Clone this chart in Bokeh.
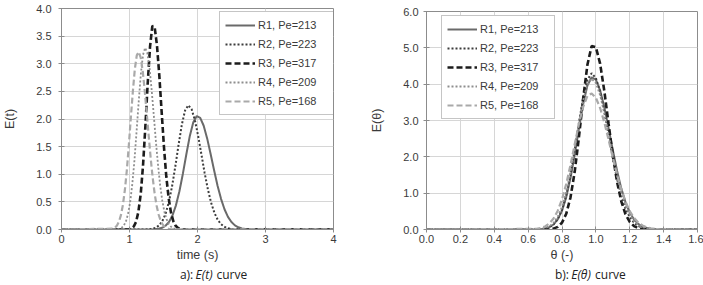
from bokeh.plotting import figure
from bokeh.layouts import row, column
from bokeh.models import (Range1d, FixedTicker, NumeralTickFormatter, Legend,
                          LegendItem, Label)
from bokeh.embed import file_html
from bokeh.resources import INLINE

series_labels = ["R1, Pe=213", "R2, Pe=223", "R3, Pe=317", "R4, Pe=209", "R5, Pe=168"]

# ---- panel a): E(t) ----
t_R1 = [0.0, 1.326, 1.377, 1.428, 1.479, 1.530, 1.581, 1.632, 1.683, 1.734, 1.785, 1.836,
        1.887, 1.938, 1.989, 2.040, 2.091, 2.142, 2.193, 2.244, 2.295, 2.346, 2.397,
        2.448, 2.499, 2.550, 2.601, 2.652, 2.703, 2.754, 2.805, 2.856, 4.0]
E_t_R1 = [0.0, 0.002, 0.005, 0.013, 0.031, 0.068, 0.137, 0.254, 0.437, 0.692, 1.010, 1.362,
          1.694, 1.943, 2.054, 2.022, 1.878, 1.649, 1.367, 1.072, 0.793, 0.555, 0.367,
          0.229, 0.135, 0.075, 0.040, 0.020, 0.009, 0.004, 0.001, 0.0, 0.0]

t_R2 = [0.0, 1.243, 1.291, 1.339, 1.387, 1.435, 1.483, 1.530, 1.578, 1.626, 1.674, 1.722,
        1.770, 1.817, 1.865, 1.913, 1.961, 2.009, 2.057, 2.104, 2.152, 2.200, 2.248,
        2.296, 2.343, 2.391, 2.439, 2.487, 2.535, 2.583, 2.630, 2.678, 4.0]
E_t_R2 = [0.0, 0.002, 0.005, 0.014, 0.033, 0.074, 0.151, 0.283, 0.491, 0.782, 1.143, 1.537,
          1.899, 2.155, 2.248, 2.179, 1.984, 1.697, 1.363, 1.029, 0.730, 0.486, 0.304,
          0.179, 0.099, 0.051, 0.025, 0.012, 0.005, 0.002, 0.001, 0.0, 0.0]

t_R3 = [0.0, 0.891, 0.925, 0.959, 0.993, 1.028, 1.062, 1.096, 1.130, 1.165, 1.199, 1.233,
        1.267, 1.302, 1.336, 1.370, 1.404, 1.439, 1.473, 1.507, 1.541, 1.576, 1.610,
        1.644, 1.678, 1.713, 1.747, 1.781, 1.815, 1.850, 1.884, 1.918, 4.0]
E_t_R3 = [0.0, 0.0, 0.0, 0.001, 0.006, 0.018, 0.053, 0.137, 0.315, 0.642, 1.159, 1.854,
          2.631, 3.308, 3.686, 3.664, 3.332, 2.779, 2.126, 1.491, 0.959, 0.566, 0.306,
          0.152, 0.069, 0.028, 0.011, 0.004, 0.001, 0.0, 0.0, 0.0, 0.0]

t_R4 = [0.0, 0.820, 0.852, 0.883, 0.915, 0.947, 0.978, 1.010, 1.041, 1.073, 1.104, 1.136,
        1.167, 1.199, 1.230, 1.262, 1.294, 1.325, 1.357, 1.388, 1.420, 1.451, 1.483,
        1.514, 1.546, 1.578, 1.609, 1.641, 1.672, 1.704, 1.735, 1.767, 4.0]
E_t_R4 = [0.0, 0.005, 0.013, 0.031, 0.070, 0.144, 0.279, 0.497, 0.820, 1.254, 1.774, 2.324,
          2.819, 3.164, 3.288, 3.195, 2.929, 2.536, 2.071, 1.597, 1.162, 0.798, 0.517,
          0.317, 0.183, 0.100, 0.052, 0.025, 0.011, 0.005, 0.002, 0.001, 0.0]

t_R5 = [0.0, 0.757, 0.786, 0.816, 0.845, 0.874, 0.903, 0.932, 0.961, 0.990, 1.019, 1.049,
        1.078, 1.107, 1.136, 1.165, 1.194, 1.223, 1.252, 1.282, 1.311, 1.340, 1.369,
        1.398, 1.427, 1.456, 1.485, 1.515, 1.544, 1.573, 1.602, 1.631, 4.0]
E_t_R5 = [0.0, 0.015, 0.034, 0.072, 0.142, 0.259, 0.445, 0.715, 1.076, 1.521, 2.013, 2.494,
          2.897, 3.152, 3.215, 3.112, 2.871, 2.527, 2.122, 1.700, 1.298, 0.946, 0.657,
          0.435, 0.276, 0.167, 0.095, 0.052, 0.027, 0.014, 0.007, 0.003, 0.0]

# ---- panel b): E(theta) ----
theta = [0.0, 0.65, 0.675, 0.70, 0.725, 0.75, 0.775, 0.80, 0.825, 0.85, 0.875, 0.90, 0.925,
         0.95, 0.975, 1.00, 1.025, 1.05, 1.075, 1.10, 1.125, 1.15, 1.175, 1.20, 1.225,
         1.25, 1.275, 1.30, 1.325, 1.35, 1.375, 1.40, 1.6]
E_th_R1 = [0.0, 0.004, 0.010, 0.027, 0.063, 0.138, 0.279, 0.518, 0.891, 1.411, 2.061, 2.779,
           3.455, 3.963, 4.190, 4.125, 3.831, 3.364, 2.789, 2.186, 1.618, 1.132, 0.749,
           0.468, 0.276, 0.154, 0.081, 0.040, 0.019, 0.008, 0.003, 0.001, 0.0]
E_th_R2 = [0.0, 0.003, 0.010, 0.026, 0.063, 0.141, 0.288, 0.542, 0.940, 1.496, 2.187, 2.940,
           3.632, 4.122, 4.300, 4.168, 3.795, 3.246, 2.608, 1.969, 1.396, 0.930, 0.582,
           0.342, 0.189, 0.098, 0.048, 0.022, 0.009, 0.004, 0.001, 0.0, 0.0]
E_th_R3 = [0.0, 0.0, 0.0, 0.002, 0.008, 0.025, 0.072, 0.188, 0.432, 0.879, 1.588, 2.540,
           3.605, 4.532, 5.050, 5.020, 4.565, 3.807, 2.912, 2.043, 1.314, 0.775, 0.419,
           0.208, 0.095, 0.039, 0.015, 0.005, 0.002, 0.0, 0.0, 0.0, 0.0]
E_th_R4 = [0.0, 0.006, 0.016, 0.039, 0.088, 0.182, 0.352, 0.627, 1.035, 1.582, 2.239, 2.933,
           3.557, 3.993, 4.150, 4.032, 3.697, 3.200, 2.614, 2.016, 1.467, 1.007, 0.653,
           0.400, 0.231, 0.126, 0.065, 0.031, 0.014, 0.006, 0.002, 0.001, 0.0]
E_th_R5 = [0.0, 0.018, 0.040, 0.084, 0.165, 0.302, 0.518, 0.833, 1.254, 1.772, 2.345, 2.906,
           3.375, 3.672, 3.746, 3.625, 3.345, 2.944, 2.472, 1.980, 1.512, 1.102, 0.765,
           0.507, 0.321, 0.194, 0.111, 0.061, 0.032, 0.016, 0.008, 0.003, 0.0]

t_ticks = [0, 1, 2, 3, 4]
Et_ticks = [0.0, 0.5, 1.0, 1.5, 2.0, 2.5, 3.0, 3.5, 4.0]
theta_ticks = [0.0, 0.2, 0.4, 0.6, 0.8, 1.0, 1.2, 1.4, 1.6]
Eth_ticks = [0.0, 1.0, 2.0, 3.0, 4.0, 5.0, 6.0]

# ---- styles ----
colors = ["#6a6a6a", "#3c3c3c", "#1c1c1c", "#8e8e8e", "#a9a9a9"]
dashes = ["solid", "2 2", "6 3", "2 2", "6 3"]
widths = [2.0, 2.0, 2.6, 1.8, 2.2]

FRAME = "#8c8c8c"
GRID = "#d6d6d6"
TXT = "#3a3a3a"
SANS = "Liberation Sans"
MAIN_H = 264
CAP_H = 21


def style_axes(p, ylabel_standoff):
    p.outline_line_color = FRAME
    p.outline_line_width = 1
    p.outline_line_alpha = 1
    for ax in p.axis:
        ax.axis_line_color = FRAME
        ax.major_tick_line_color = FRAME
        ax.major_tick_in = 3
        ax.major_tick_out = 3
        ax.minor_tick_line_color = None
        ax.major_label_text_font = SANS
        ax.major_label_text_font_size = "11px"
        ax.major_label_text_color = TXT
        ax.axis_label_text_font = SANS
        ax.axis_label_text_font_size = "12.5px"
        ax.axis_label_text_font_style = "normal"
        ax.axis_label_text_color = TXT
    p.xaxis.major_label_standoff = 2
    p.xaxis.axis_label_standoff = 2
    p.yaxis.axis_label_standoff = ylabel_standoff
    p.xgrid.grid_line_color = GRID
    p.ygrid.grid_line_color = GRID
    p.background_fill_color = "white"
    p.border_fill_color = "white"


def add_legend(p, renderers, loc, label_width):
    items = [LegendItem(label=lab, renderers=[r]) for lab, r in zip(series_labels, renderers)]
    leg = Legend(items=items, location=loc)
    leg.label_text_font = SANS
    leg.label_text_font_size = "11px"
    leg.label_text_color = TXT
    leg.glyph_width = 30
    leg.glyph_height = 16
    leg.label_height = 16
    leg.label_width = label_width
    leg.label_standoff = 3
    leg.spacing = 3
    leg.padding = 5
    leg.margin = 0
    leg.border_line_color = FRAME
    leg.border_line_width = 1
    leg.background_fill_color = "white"
    leg.background_fill_alpha = 1
    p.add_layout(leg)


def caption(width, left, prefix, sym, curve_x):
    c = figure(width=width, height=CAP_H, x_range=Range1d(0, width), y_range=Range1d(0, CAP_H),
               output_backend="svg", toolbar_location=None, x_axis_type=None,
               y_axis_type=None, min_border=0, outline_line_color=None)
    c.xgrid.visible = False
    c.ygrid.visible = False
    common = dict(y=CAP_H - 10, text_baseline="middle", text_font="Open Sans",
                  text_font_size="12px", text_color="#222222")
    c.add_layout(Label(x=left + 110, text=prefix, text_align="right", **common))
    c.add_layout(Label(x=left + 113, text=sym, text_align="left",
                       text_font_style="italic", **common))
    c.add_layout(Label(x=left + curve_x, text="curve", text_align="left", **common))
    return c


# ---- left figure ----
p1 = figure(width=351, height=MAIN_H, x_range=Range1d(0, 4), y_range=Range1d(0, 4),
            output_backend="svg", toolbar_location=None,
            min_border_left=60, min_border_right=18, min_border_top=8, min_border_bottom=35,
            x_axis_label="time (s)", y_axis_label="E(t)")
p1.xaxis.ticker = FixedTicker(ticks=t_ticks)
p1.yaxis.ticker = FixedTicker(ticks=Et_ticks)
p1.xaxis.formatter = NumeralTickFormatter(format="0")
p1.yaxis.formatter = NumeralTickFormatter(format="0.0")
p1.yaxis.major_label_standoff = 7
style_axes(p1, 16)

left_data = [(t_R1, E_t_R1), (t_R2, E_t_R2), (t_R3, E_t_R3), (t_R4, E_t_R4), (t_R5, E_t_R5)]
r_left = []
for (xs, ys), c, d, w in zip(left_data, colors, dashes, widths):
    r_left.append(p1.line(xs, ys, line_color=c, line_dash=d, line_width=w))
add_legend(p1, r_left, (158, 114), 70)
cap1 = caption(351, 60, "a):", "E(t)", 140)

# ---- right figure ----
p2 = figure(width=352, height=MAIN_H, x_range=Range1d(0, 1.6), y_range=Range1d(0, 6),
            output_backend="svg", toolbar_location=None,
            min_border_left=75, min_border_right=6, min_border_top=11, min_border_bottom=35,
            x_axis_label="θ (-)", y_axis_label="E(θ)")
p2.xaxis.ticker = FixedTicker(ticks=theta_ticks)
p2.yaxis.ticker = FixedTicker(ticks=Eth_ticks)
p2.xaxis.formatter = NumeralTickFormatter(format="0.0")
p2.yaxis.formatter = NumeralTickFormatter(format="0.0")
p2.yaxis.major_label_standoff = 5
style_axes(p2, 16)

right_data = [E_th_R1, E_th_R2, E_th_R3, E_th_R4, E_th_R5]
r_right = []
for ys, c, d, w in zip(right_data, colors, dashes, widths):
    r_right.append(p2.line(theta, ys, line_color=c, line_dash=d, line_width=w))
add_legend(p2, r_right, (15, 110), 69)
cap2 = caption(352, 75, "b):", "E(θ)", 144)

layout = row(column(p1, cap1), column(p2, cap2))
open("out.html", "w").write(file_html(layout, INLINE))
